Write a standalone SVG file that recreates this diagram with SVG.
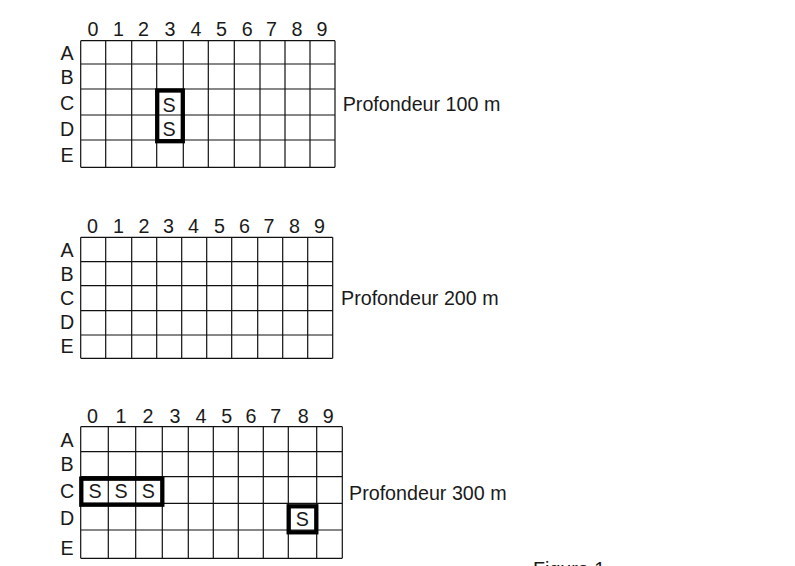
<svg xmlns="http://www.w3.org/2000/svg" width="795" height="566" viewBox="0 0 795 566">
<style>
.g{fill:none;stroke:#111;stroke-width:1.2}
.b{fill:none;stroke:#000;stroke-width:4.3}
text{font-family:"Liberation Sans",Arial,sans-serif;font-size:19.7px;fill:#1a1a1a}
.c{text-anchor:middle}
</style>
<rect width="795" height="566" fill="#fff"/>
<g id="grid100">
<path class="g" d="M80.7 40.7V167.3M105.7 40.7V167.3M131.7 40.7V167.3M156.7 40.7V167.3M183.3 40.7V167.3M208.3 40.7V167.3M234.3 40.7V167.3M260 40.7V167.3M285 40.7V167.3M310 40.7V167.3M335 40.7V167.3M80.7 40.7H335M80.7 64H335M80.7 89H335M80.7 115H335M80.7 140H335M80.7 167.3H335"/>
<g class="c">
<text x="93" y="36">0</text><text x="118.5" y="36">1</text><text x="143.5" y="36">2</text><text x="170" y="36">3</text><text x="196" y="36">4</text><text x="221.5" y="36">5</text><text x="247.3" y="36">6</text><text x="271.5" y="36">7</text><text x="297" y="36">8</text><text x="322" y="36">9</text>
<text x="67" y="60">A</text><text x="67" y="84">B</text><text x="67" y="110">C</text><text x="67" y="136">D</text><text x="67" y="161.7">E</text>
<text x="169" y="111.5">S</text><text x="169" y="135.5">S</text>
</g>
<rect class="b" x="157.2" y="90.5" width="25.6" height="50.7"/>
<text x="342.7" y="110.7">Profondeur 100 m</text>
</g>
<g id="grid200">
<path class="g" d="M80.7 237.3V358.3M105.7 237.3V358.3M131.7 237.3V358.3M156.7 237.3V358.3M181.7 237.3V358.3M206.7 237.3V358.3M231.7 237.3V358.3M257.7 237.3V358.3M282.7 237.3V358.3M307.7 237.3V358.3M332.7 237.3V358.3M80.7 237.3H332.7M80.7 261.7H332.7M80.7 285.7H332.7M80.7 310.7H332.7M80.7 335H332.7M80.7 358.3H332.7"/>
<g class="c">
<text x="92.5" y="232.7">0</text><text x="118.5" y="232.7">1</text><text x="144" y="232.7">2</text><text x="168.5" y="232.7">3</text><text x="193.5" y="232.7">4</text><text x="219.5" y="232.7">5</text><text x="244.5" y="232.7">6</text><text x="269" y="232.7">7</text><text x="294.5" y="232.7">8</text><text x="319.5" y="232.7">9</text>
<text x="67" y="257.3">A</text><text x="67" y="281">B</text><text x="67" y="305">C</text><text x="67" y="329">D</text><text x="67" y="352.7">E</text>
</g>
<text x="341" y="305">Profondeur 200 m</text>
</g>
<g id="grid300">
<path class="g" d="M80.7 426.7V558.3M108.3 426.7V558.3M135.7 426.7V558.3M162.3 426.7V558.3M188.3 426.7V558.3M213.3 426.7V558.3M238.3 426.7V558.3M263.3 426.7V558.3M288.3 426.7V558.3M316.7 426.7V558.3M342.3 426.7V558.3M80.7 426.7H342.3M80.7 451.7H342.3M80.7 476.7H342.3M80.7 503.3H342.3M80.7 530H342.3M80.7 558.3H342.3"/>
<g class="c">
<text x="92.5" y="422.7">0</text><text x="121" y="422.7">1</text><text x="148" y="422.7">2</text><text x="175" y="422.7">3</text><text x="201" y="422.7">4</text><text x="226.7" y="422.7">5</text><text x="251" y="422.7">6</text><text x="275.7" y="422.7">7</text><text x="303.3" y="422.7">8</text><text x="328.3" y="422.7">9</text>
<text x="67" y="446.7">A</text><text x="67" y="471">B</text><text x="67" y="498.3">C</text><text x="67" y="525">D</text><text x="67" y="555">E</text>
<text x="95" y="498.3">S</text><text x="121" y="498.3">S</text><text x="148.3" y="498.3">S</text><text x="302.3" y="526">S</text>
</g>
<rect class="b" x="81.3" y="478.7" width="81" height="26"/>
<rect class="b" x="288.7" y="506.3" width="27.6" height="26"/>
<text x="349" y="500">Profondeur 300 m</text>
</g>
<text id="caption" x="533" y="576">Figure 1</text>
</svg>
